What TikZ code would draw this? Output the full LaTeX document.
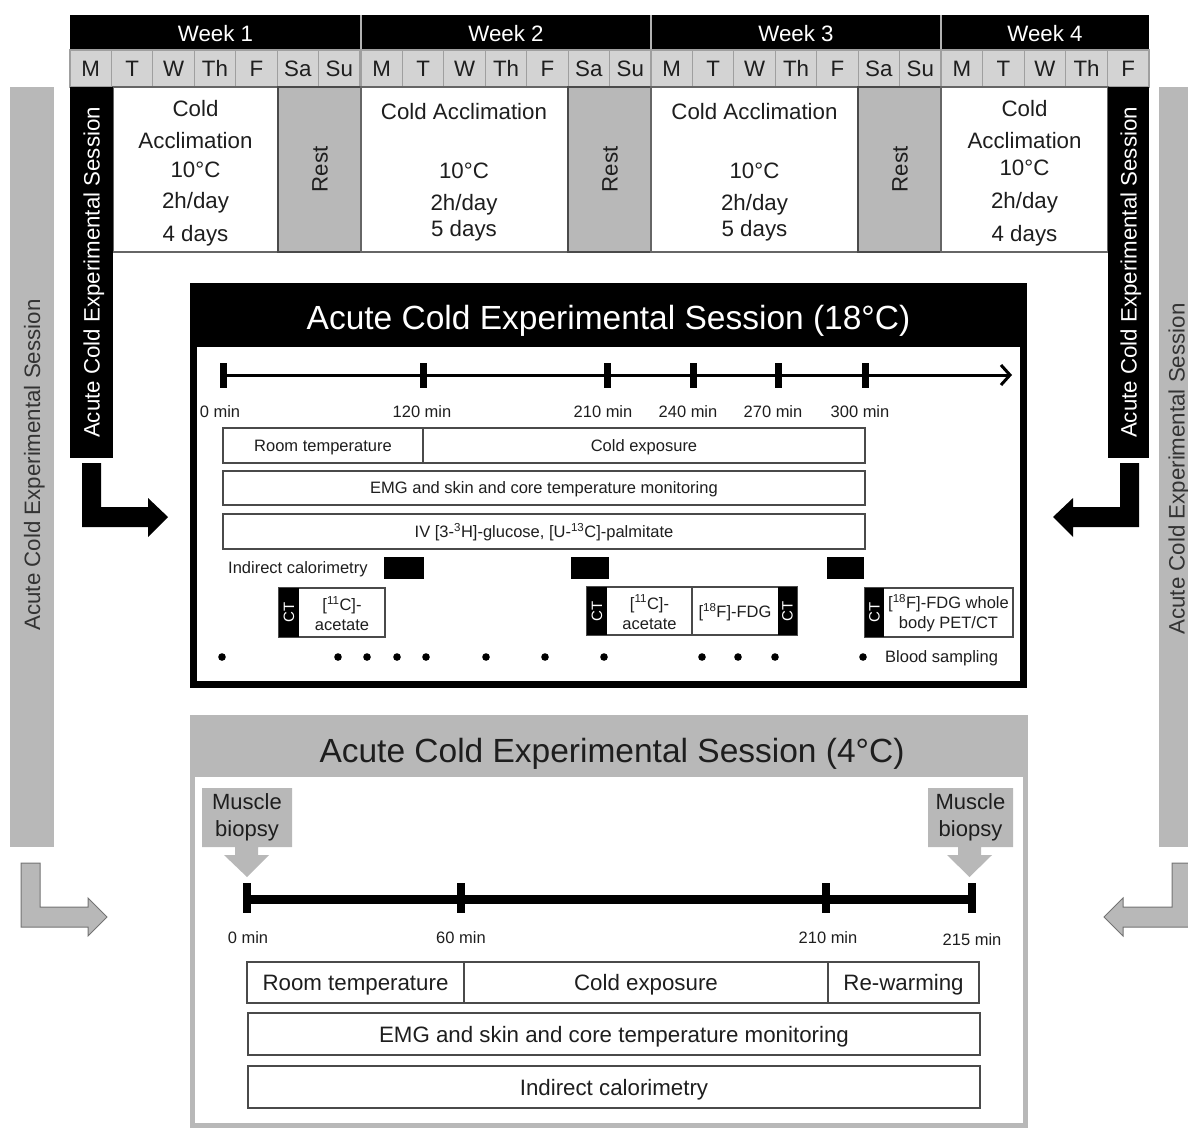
\documentclass[tikz,border=0pt]{standalone}
\usepackage{fontspec}
\setmainfont{Liberation Sans}
\usetikzlibrary{arrows.meta}
\definecolor{lg}{HTML}{D3D3D3}
\definecolor{mg}{HTML}{B8B8B8}
\definecolor{dg}{HTML}{4A4A4A}
\definecolor{tx}{HTML}{1E1E1E}
\definecolor{gt}{HTML}{333333}
\begin{document}
\begin{tikzpicture}[x=1pt,y=-1pt,
  every node/.style={inner sep=0pt,text=tx},
  big/.style={font=\fontsize{22.3}{26}\selectfont},
  bigc/.style={big,text height=16,text depth=0},
  sm/.style={font=\fontsize{16.5}{20}\selectfont},
  smc/.style={sm,text height=11.8,text depth=0},
  ttl/.style={font=\fontsize{33.5}{38}\selectfont},
  daycell/.style={fill=lg,draw=gray!75,line width=1.2},
  coldbox/.style={fill=white,draw=gray!80!black,line width=1.5},
  restbox/.style={fill=mg,draw=dg,line width=2},
  bxs/.style={fill=white,draw=dg,line width=2},
  bxb/.style={fill=white,draw=dg,line width=2},
  garrow/.style={fill=mg,draw=gray!90!black,line width=1}]
\useasboundingbox (0,0) rectangle (1188,1128);
\clip (0,0) rectangle (1188,1128);

% ---------- Week header ----------
\fill[black] (70,15) rectangle (1149,50);
\foreach \xx in {361,651,941} \draw[gray!60,line width=1.5] (\xx,15) -- (\xx,50);
\node[bigc,text=white] (wk1) at (215.5,33) {Week 1};
\node[bigc,text=white] (wk2) at (506,33) {Week 2};
\node[bigc,text=white] (wk3) at (796,33) {Week 3};
\node[bigc,text=white] (wk4) at (1045,33) {Week 4};

% ---------- Days ----------
\foreach \w/\xo in {1/70,2/361,3/651}{
  \foreach \d [count=\i from 0] in {M,T,W,Th,F,Sa,Su}{
    \draw[daycell] ({\xo+\i*41.43},50) rectangle ({\xo+(\i+1)*41.43},87)
      node[midway,bigc] (d\w-\i) {\d};
  }
}
\foreach \d [count=\i from 0] in {M,T,W,Th,F}{
  \draw[daycell] ({941+\i*41.6},50) rectangle ({941+(\i+1)*41.6},87)
    node[midway,bigc] (d4-\i) {\d};
}

% ---------- Week contents ----------
\draw[coldbox] (113,87) rectangle (278,252);
\draw[restbox] (278,87) rectangle (361,252) node[midway,bigc,rotate=90] (rest1) {Rest};
\draw[coldbox] (361,87) rectangle (568,252);
\draw[restbox] (568,87) rectangle (651,252) node[midway,bigc,rotate=90] (rest2) {Rest};
\draw[coldbox] (651,87) rectangle (858,252);
\draw[restbox] (858,87) rectangle (941,252) node[midway,bigc,rotate=90] (rest3) {Rest};
\draw[coldbox] (941,87) rectangle (1108,252);

\foreach \t/\yy [count=\k] in {Cold/116,Acclimation/148,10°C/177,2h\slash day/208,4 days/241}
  \node[big,anchor=base] (ca1-\k) at (195.5,\yy) {\t};
\foreach \t/\yy [count=\k] in {Cold Acclimation/119,10°C/178,2h\slash day/210,5 days/236}
  \node[big,anchor=base] (ca2-\k) at (464,\yy) {\t};
\foreach \t/\yy [count=\k] in {Cold Acclimation/119,10°C/178,2h\slash day/210,5 days/236}
  \node[big,anchor=base] (ca3-\k) at (754.5,\yy) {\t};
\foreach \t/\yy [count=\k] in {Cold/116,Acclimation/148,10°C/175,2h\slash day/208,4 days/241}
  \node[big,anchor=base] (ca4-\k) at (1024.5,\yy) {\t};

% black session columns
\fill[black] (70,87) rectangle (113,458)
  node[midway,rotate=90,text=white,bigc] (colL) {Acute Cold Experimental Session};
\fill[black] (1108,87) rectangle (1149,458)
  node[midway,rotate=90,text=white,bigc] (colR) {Acute Cold Experimental Session};

% gray session bars
\fill[mg] (10,87) rectangle (54,847);
\node[rotate=90,text=gt,bigc] (barL) at (32,465) {Acute Cold Experimental Session};
\fill[mg] (1159,87) rectangle (1203,847);
\node[rotate=90,text=gt,bigc] (barR) at (1176.5,469) {Acute Cold Experimental Session};

% black L arrows
\coordinate (aL) at (168,517);
\coordinate (aR) at (1053,517);
\fill[black] (82,463) -- (101,463) -- (101,507) -- (148,507) -- (148,498) -- (aL) -- (148,537) -- (148,527) -- (82,527) -- cycle;
\fill[black] (1139,463) -- (1120,463) -- (1120,507) -- (1073,507) -- (1073,498) -- (aR) -- (1073,537) -- (1073,527) -- (1139,527) -- cycle;

% gray L arrows
\coordinate (gL) at (107,917);
\coordinate (gR) at (1104,917);
\draw[garrow] (21,863) -- (40,863) -- (40,907) -- (88,907) -- (88,898) -- (gL) -- (88,936) -- (88,927) -- (21,927) -- cycle;
\draw[garrow] (1192,863) -- (1172,863) -- (1172,907) -- (1123,907) -- (1123,898) -- (gR) -- (1123,936) -- (1123,927) -- (1192,927) -- cycle;

% ---------- 18 °C session ----------
\fill[black] (190,283) rectangle (1027,347);
\node[ttl,text=white,anchor=base] (t18) at (608.5,329) {Acute Cold Experimental Session (18°C)};
\draw[line width=7] (193.5,347) -- (193.5,684.5) -- (1023.5,684.5) -- (1023.5,347);

\coordinate (tlS) at (223,375);
\coordinate (tlE) at (1012,375);
\draw[line width=3,-{Straight Barb[length=9pt,width=20pt,line width=3pt]}] (tlS) -- (tlE);
\foreach \xx in {223,423,607,693,778,865} \fill (\xx-3.5,363) rectangle (\xx+3.5,388);
\foreach \xx/\t [count=\k] in {220/0,422/120,603/210,688/240,773/270,860/300}
  \node[sm,anchor=base] (m18-\k) at (\xx,417) {\t\ min};

\draw[bxs] (223,428) rectangle (423,463) node[midway,smc] (rt18) {Room temperature};
\draw[bxs] (423,428) rectangle (865,463) node[midway,smc] (ce18) {Cold exposure};
\draw[bxs] (223,471) rectangle (865,505) node[midway,smc] (emg18) {EMG and skin and core temperature monitoring};
\draw[bxs] (223,514) rectangle (865,549) node[midway,smc] (iv18) {IV [3-\textsuperscript{3}H]-glucose, [U-\textsuperscript{13}C]-palmitate};

\node[smc,anchor=west] (ic18) at (228,568) {Indirect calorimetry};
\fill (384,557) rectangle (424,579);
\fill (571,557) rectangle (609,579);
\fill (827,557) rectangle (864,579);

% CT / PET blocks
\draw[bxs] (279,588) rectangle (385,637);
\fill (279,588) rectangle (299,637) node[midway,rotate=90,text=white,font=\fontsize{15}{18}\selectfont] (ct1) {CT};
\node[sm,align=center] (ac1) at (342,613.5) {[\textsuperscript{11}C]-\\acetate};

\draw[bxs] (587,587) rectangle (797,635);
\draw[bxs] (692,587) -- (692,635);
\fill (587,587) rectangle (607,635) node[midway,rotate=90,text=white,font=\fontsize{15}{18}\selectfont] (ct2) {CT};
\node[sm,align=center] (ac2) at (649.5,612) {[\textsuperscript{11}C]-\\acetate};
\node[smc] (fdg2) at (735,612) {[\textsuperscript{18}F]-FDG};
\fill (778,587) rectangle (797,635) node[midway,rotate=90,text=white,font=\fontsize{15}{18}\selectfont] (ct3) {CT};

\draw[bxs] (865,588) rectangle (1013,637);
\fill (865,588) rectangle (884,637) node[midway,rotate=90,text=white,font=\fontsize{15}{18}\selectfont] (ct4) {CT};
\node[sm,align=center] (pet) at (948.5,613.5) {[\textsuperscript{18}F]-FDG whole\\body PET/CT};

\foreach \xx in {222,338,367,397,426,486,545,604,702,738,775,863} \fill (\xx,657) circle (3.8);
\node[smc,anchor=west] (bs) at (885,657) {Blood sampling};

% ---------- 4 °C session ----------
\fill[mg] (190,715) rectangle (1028,777);
\node[ttl,anchor=base] (t4) at (612,762) {Acute Cold Experimental Session (4°C)};
\draw[mg,line width=5] (192.5,777) -- (192.5,1125.5) -- (1025.5,1125.5) -- (1025.5,777);

\fill[mg] (202,788) -- (292,788) -- (292,847) -- (258,847) -- (258,855) -- (269,855) -- (247,877) -- (224,855) -- (235,855) -- (235,847) -- (202,847) -- cycle;
\node[align=center,font=\fontsize{22}{27}\selectfont] (mb1) at (247,817.5) {Muscle\\biopsy};
\fill[mg] (928,788) -- (1013,788) -- (1013,847) -- (981,847) -- (981,855) -- (992,855) -- (969.5,877) -- (947,855) -- (958,855) -- (958,847) -- (928,847) -- cycle;
\node[align=center,font=\fontsize{22}{27}\selectfont] (mb2) at (970.5,817.5) {Muscle\\biopsy};

\coordinate (t4S) at (247,899);
\coordinate (t4E) at (972,899);
\draw[line width=9] (t4S) -- (t4E);
\foreach \xx in {247,461,826,972} \fill (\xx-4,883) rectangle (\xx+4,913);
\foreach \xx/\t/\yy [count=\k] in {248/0/943,461/60/943,828/210/943,972/215/945}
  \node[sm,anchor=base] (m4-\k) at (\xx,\yy) {\t\ min};

\draw[bxb] (247,962) rectangle (464,1003) node[midway,bigc] (rt4) {Room temperature};
\draw[bxb] (464,962) rectangle (828,1003) node[midway,bigc] (ce4) {Cold exposure};
\draw[bxb] (828,962) rectangle (979,1003) node[midway,bigc] (rw4) {Re-warming};
\draw[bxb] (248,1013) rectangle (980,1055) node[midway,bigc] (emg4) {EMG and skin and core temperature monitoring};
\draw[bxb] (248,1066) rectangle (980,1108) node[midway,bigc] (ic4) {Indirect calorimetry};
\end{tikzpicture}
\end{document}
